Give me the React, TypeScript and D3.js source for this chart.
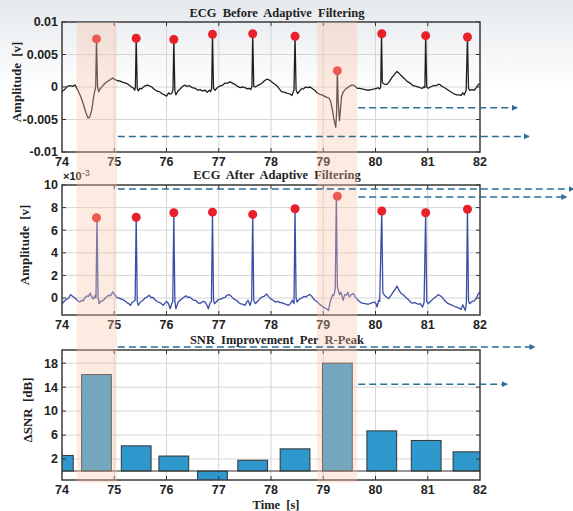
import React, { useEffect, useRef } from 'react';
import * as d3 from 'd3';

// R-peak times [s] and detected peak amplitudes
const rPeakTimes = [74.66, 75.42, 76.14, 76.88, 77.65, 78.46, 79.27, 80.12, 80.96, 81.76];
const rPeakBefore = [0.0074, 0.0075, 0.0073, 0.0081, 0.0082, 0.0078, 0.0025, 0.0082, 0.0079, 0.0077];
const rPeakAfter = [7.1, 7.15, 7.55, 7.6, 7.4, 7.9, 9.0, 7.7, 7.55, 7.85]; // x1e-3

// SNR improvement per R-peak
const barTimes = [73.93, 74.66, 75.42, 76.14, 76.88, 77.65, 78.46, 79.27, 80.12, 80.97, 81.77];
const snrGain = [2.6, 16.1, 4.2, 2.5, -1.6, 1.8, 3.7, 18.0, 6.7, 5.1, 3.2];

// motion-artifact windows [s]
const artifactWindows: [number, number][] = [[74.28, 75.05], [78.88, 79.65]];

const xTicks = [74, 75, 76, 77, 78, 79, 80, 81, 82];
const yTicksBefore = [-0.01, -0.005, 0, 0.005, 0.01];
const yTickLabelsBefore = ['-0.01', '-0.005', '0', '0.005', '0.01'];
const yTicksAfter = [0, 2, 4, 6, 8, 10];
const yTicksSnr = [2, 6, 10, 14, 18];

// [time, amplitude]
const ecgBefore: [number, number][] = [
  [74.0, -0.0007], [74.05, -0.0004], [74.1, 0.0001], [74.15, 0.0002], [74.2, 0.0001], [74.25, 0.0003],
  [74.31, -0.0006], [74.36, -0.0015], [74.41, -0.0027], [74.46, -0.004], [74.5, -0.0048], [74.53, -0.0046],
  [74.57, -0.0035], [74.6, -0.0018], [74.63, -0.0005], [74.645, 0.0], [74.66, 0.0073], [74.68, 0.0002],
  [74.7, -0.0007], [74.73, -0.0003], [74.79, 0.0003], [74.86, 0.0008], [74.92, 0.0011], [74.97, 0.0014],
  [75.0, 0.0012], [75.05, 0.001], [75.11, 0.0009], [75.17, 0.0007], [75.22, 0.0006], [75.27, 0.0004],
  [75.33, 0.0], [75.37, -0.0002], [75.39, -0.0005], [75.405, -0.0001], [75.42, 0.0075], [75.44, -0.0002],
  [75.46, -0.0006], [75.49, -0.0002], [75.52, -0.0003], [75.57, 0.0001], [75.63, 0.0003], [75.66, 0.0002],
  [75.72, 0.0], [75.76, -0.0003], [75.81, -0.0006], [75.86, -0.0007], [75.91, -0.001], [75.96, -0.0012],
  [76.0, -0.0014], [76.04, -0.0009], [76.07, -0.0011], [76.1, -0.001], [76.125, -0.0004], [76.14, 0.0073],
  [76.16, -0.0006], [76.18, -0.0012], [76.22, -0.0006], [76.26, -0.0003], [76.31, 0.0001], [76.35, 0.0003],
  [76.39, 0.0001], [76.44, 0.0002], [76.49, -0.0001], [76.55, -0.0002], [76.6, -0.0005], [76.64, -0.0004],
  [76.69, -0.0006], [76.74, -0.0005], [76.78, -0.0008], [76.82, -0.0005], [76.845, -0.0007], [76.865, -0.0002],
  [76.88, 0.0081], [76.9, -0.0002], [76.93, -0.0005], [76.96, -0.0002], [76.99, 0.0], [77.04, 0.0002],
  [77.08, 0.0003], [77.12, 0.0006], [77.17, 0.0006], [77.22, 0.0008], [77.26, 0.0006], [77.31, 0.0004],
  [77.36, 0.0001], [77.41, -0.0001], [77.46, 0.0], [77.5, -0.0001], [77.55, -0.0003], [77.58, -0.0002],
  [77.61, -0.0004], [77.635, 0.0], [77.65, 0.0082], [77.67, 0.0001], [77.7, 0.0], [77.74, 0.0002],
  [77.79, 0.0004], [77.84, 0.0007], [77.88, 0.001], [77.92, 0.0012], [77.96, 0.0011], [78.01, 0.0008],
  [78.06, 0.0005], [78.11, 0.0002], [78.16, -0.0003], [78.2, -0.0007], [78.25, -0.0008], [78.29, -0.0009],
  [78.33, -0.001], [78.37, -0.0011], [78.4, -0.0013], [78.425, -0.0008], [78.44, -0.0004], [78.46, 0.0078],
  [78.48, -0.0005], [78.51, -0.001], [78.55, -0.0006], [78.58, -0.0003], [78.62, -0.0003], [78.66, 0.0],
  [78.7, -0.0001], [78.75, 0.0], [78.8, -0.0003], [78.84, -0.0005], [78.88, -0.0009], [78.93, -0.0011],
  [78.97, -0.0012], [79.02, -0.0014], [79.07, -0.0016], [79.11, -0.0017], [79.14, -0.0022], [79.17, -0.0033],
  [79.2, -0.0048], [79.24, -0.0062], [79.255, -0.004], [79.27, 0.0025], [79.285, -0.002], [79.31, -0.0052],
  [79.33, -0.0035], [79.35, -0.0015], [79.38, -0.0008], [79.42, -0.0004], [79.45, -0.0002], [79.48, 0.0],
  [79.52, 0.0002], [79.55, 0.0003], [79.58, 0.0003], [79.61, 0.0001], [79.65, -0.0002], [79.7, -0.0002],
  [79.74, -0.0003], [79.8, -0.0004], [79.86, -0.0005], [79.92, -0.0004], [79.98, -0.0003], [80.02, -0.0002],
  [80.05, -0.0001], [80.08, -0.0003], [80.1, 0.0], [80.115, 0.0082], [80.13, 0.0008], [80.15, 0.0005],
  [80.19, 0.0004], [80.22, 0.0004], [80.26, 0.0008], [80.31, 0.0014], [80.36, 0.0019], [80.41, 0.0024],
  [80.45, 0.0021], [80.5, 0.0017], [80.55, 0.0013], [80.6, 0.0009], [80.66, 0.0006], [80.72, 0.0002],
  [80.78, 0.0001], [80.85, -0.0001], [80.9, -0.0002], [80.935, 0.0001], [80.945, -0.0001], [80.96, 0.0079],
  [80.98, 0.0], [81.01, -0.0002], [81.05, 0.0], [81.11, 0.0002], [81.16, 0.0002], [81.2, 0.0004],
  [81.23, 0.0004], [81.27, 0.0001], [81.3, 0.0], [81.36, -0.0003], [81.43, -0.0007], [81.49, -0.001],
  [81.55, -0.0012], [81.6, -0.0012], [81.64, -0.0013], [81.67, -0.0009], [81.7, -0.0012], [81.735, -0.0005],
  [81.76, 0.0077], [81.78, -0.0002], [81.8, -0.0005], [81.85, -0.0004], [81.89, -0.0005], [81.93, -0.0001],
  [81.97, 0.0004], [82.0, 0.0005],
];

// [time, amplitude x1e-3]
const ecgAfter: [number, number][] = [
  [74.0, -0.5], [74.04, -0.3], [74.09, -0.1], [74.13, 0.0], [74.16, 0.3], [74.19, 0.2], [74.22, 0.1],
  [74.25, 0.0], [74.29, -0.2], [74.34, -0.35], [74.38, -0.2], [74.41, -0.25], [74.44, 0.05], [74.48, 0.2],
  [74.51, 0.15], [74.54, 0.45], [74.57, 0.1], [74.6, -0.1], [74.63, 0.2], [74.65, 0.0], [74.67, 7.1],
  [74.69, 0.1], [74.71, -0.5], [74.74, -0.3], [74.79, -0.2], [74.83, 0.0], [74.86, 0.1], [74.89, 0.25],
  [74.93, 0.2], [74.97, 0.55], [75.0, 0.35], [75.05, 0.05], [75.09, 0.0], [75.14, -0.1], [75.19, -0.2],
  [75.24, -0.4], [75.28, -0.5], [75.31, -0.65], [75.34, -0.4], [75.37, -0.3], [75.4, -0.2], [75.42, 7.15],
  [75.44, -0.3], [75.46, -0.65], [75.5, -0.35], [75.55, -0.2], [75.59, 0.0], [75.63, 0.1], [75.67, 0.25],
  [75.7, 0.05], [75.74, 0.05], [75.79, -0.2], [75.84, -0.35], [75.89, -0.45], [75.94, -0.65], [75.97, -0.45],
  [76.0, -0.3], [76.04, -0.5], [76.07, -0.95], [76.1, -0.5], [76.12, -0.3], [76.14, 7.55], [76.16, -0.3],
  [76.18, -0.95], [76.22, -0.4], [76.26, -0.2], [76.3, -0.05], [76.34, 0.1], [76.37, 0.2], [76.41, 0.05],
  [76.44, 0.1], [76.48, -0.05], [76.52, -0.2], [76.56, -0.2], [76.6, -0.4], [76.64, -0.5], [76.69, -0.3],
  [76.74, -0.35], [76.77, -0.6], [76.8, -0.95], [76.83, -0.5], [76.86, -0.3], [76.88, 7.6], [76.9, -0.2],
  [76.92, -0.5], [76.96, -0.3], [76.99, -0.15], [77.03, -0.1], [77.08, 0.0], [77.12, 0.05], [77.16, 0.25],
  [77.2, 0.3], [77.24, 0.15], [77.29, -0.1], [77.34, -0.2], [77.38, -0.4], [77.41, -0.5], [77.46, -0.55],
  [77.5, -0.65], [77.53, -0.4], [77.56, -0.2], [77.6, -0.65], [77.63, -0.2], [77.65, 7.4], [77.67, -0.2],
  [77.7, -0.5], [77.74, -0.3], [77.79, -0.05], [77.83, 0.1], [77.87, 0.15], [77.92, 0.35], [77.95, 0.15],
  [77.99, -0.05], [78.04, -0.2], [78.08, -0.35], [78.13, -0.3], [78.17, -0.4], [78.2, -0.4], [78.25, -0.5],
  [78.29, -0.55], [78.33, -0.65], [78.37, -0.5], [78.41, -0.2], [78.44, -0.5], [78.46, 7.9], [78.48, 0.0],
  [78.5, -0.35], [78.54, -0.1], [78.59, 0.0], [78.63, 0.15], [78.67, 0.1], [78.71, 0.25], [78.75, 0.3],
  [78.79, 0.1], [78.84, -0.2], [78.89, -0.35], [78.93, -0.55], [78.96, -0.65], [79.0, -0.8], [79.04, -0.9],
  [79.08, -1.0], [79.1, -1.1], [79.13, -0.4], [79.15, -0.1], [79.18, 0.3], [79.2, 0.2], [79.23, 0.8],
  [79.25, 9.0], [79.27, 1.0], [79.29, 0.7], [79.31, 0.3], [79.34, 0.5], [79.38, -0.2], [79.41, 0.3],
  [79.44, 0.25], [79.47, 0.5], [79.5, 0.1], [79.54, 0.3], [79.58, 0.4], [79.61, 0.1], [79.64, -0.05],
  [79.69, -0.3], [79.74, -0.45], [79.8, -0.5], [79.86, -0.55], [79.92, -0.45], [79.98, -0.35], [80.01, -0.5],
  [80.03, -0.8], [80.06, -0.2], [80.08, -0.3], [80.12, 7.7], [80.14, 0.5], [80.17, 0.25], [80.21, 0.1],
  [80.25, -0.05], [80.29, 0.2], [80.34, 0.55], [80.38, 0.8], [80.41, 1.05], [80.45, 0.7], [80.49, 0.4],
  [80.53, 0.3], [80.58, 0.05], [80.63, -0.15], [80.69, -0.45], [80.75, -0.4], [80.82, -0.55], [80.86, -0.5],
  [80.9, -0.8], [80.93, -0.4], [80.96, 7.55], [80.98, -0.3], [81.01, -0.5], [81.05, -0.3], [81.11, -0.05],
  [81.15, 0.1], [81.2, 0.3], [81.24, 0.2], [81.27, 0.1], [81.32, -0.2], [81.39, -0.5], [81.45, -0.6],
  [81.52, -0.75], [81.58, -0.85], [81.64, -1.0], [81.67, -0.6], [81.7, -0.9], [81.72, -1.1], [81.74, -0.4],
  [81.76, 7.85], [81.78, -0.2], [81.8, -0.5], [81.85, -0.3], [81.89, -0.25], [81.93, 0.0], [81.97, 0.4],
  [82.0, 0.5],
];

// dashed annotation arrows: panel, start time, end time, level
const arrows: [number, number, number, number][] = [
  [0, 79.65, 82.71, -0.0032],
  [0, 75.05, 82.94, -0.0076],
  [1, 75.05, 83.8, 9.65],
  [1, 79.65, 83.66, 8.94],
  [2, 75.05, 83.05, 20.7],
  [2, 79.65, 82.52, 14.5],
];

const W = 573;
const H = 511;
const SANS = '"Liberation Sans", Arial, sans-serif';
const SERIF = '"Liberation Serif", "Times New Roman", serif';

export default function App() {
  const ref = useRef<SVGSVGElement>(null);

  useEffect(() => {
    const svg = d3.select(ref.current);
    svg.selectAll('*').remove();

    const x = d3.scaleLinear().domain([74, 82]).range([62, 480]);
    const left = 62;
    const right = 480;

    const panels = [
      { top: 22, bottom: 152, domain: [-0.01, 0.01], ticks: yTicksBefore, labels: yTickLabelsBefore,
        title: 'ECG Before Adaptive Filtering', ylabel: 'Amplitude [v]', ylx: 16 },
      { top: 185, bottom: 315, domain: [-1.5, 10], ticks: yTicksAfter, labels: yTicksAfter.map(String),
        title: 'ECG After Adaptive Filtering', ylabel: 'Amplitude [v]', ylx: 24 },
      { top: 350, bottom: 480, domain: [-1.5, 20.2], ticks: yTicksSnr, labels: yTicksSnr.map(String),
        title: 'SNR Improvement Per R-Peak', ylabel: '\u0394SNR [dB]', ylx: 27 },
    ];
    const ys = panels.map((p) => d3.scaleLinear().domain(p.domain).range([p.bottom, p.top]));

    const defs = svg.append('defs');
    const grad = defs.append('linearGradient').attr('id', 'bg').attr('x1', 0).attr('y1', 0).attr('x2', 0).attr('y2', 1);
    grad.append('stop').attr('offset', 0).attr('stop-color', '#e5e9ed');
    grad.append('stop').attr('offset', 1).attr('stop-color', '#ffffff');
    const mk = defs.append('marker').attr('id', 'arr').attr('viewBox', '0 0 10 10')
      .attr('refX', 9).attr('refY', 5).attr('markerWidth', 4).attr('markerHeight', 4).attr('orient', 'auto')
      .attr('markerUnits', 'strokeWidth');
    mk.append('path').attr('d', 'M0,0L10,5L0,10Z').attr('fill', '#2b6f94');

    svg.append('rect').attr('width', W).attr('height', H).attr('fill', '#fff');
    svg.append('rect').attr('width', W).attr('height', 90).attr('fill', 'url(#bg)');

    panels.forEach((p, i) => {
      const y = ys[i];
      const g = svg.append('g');
      defs.append('clipPath').attr('id', `clip${i}`)
        .append('rect').attr('x', left).attr('y', p.top).attr('width', right - left).attr('height', p.bottom - p.top);

      // grid
      g.selectAll('.gx').data(xTicks.slice(1, -1)).join('line')
        .attr('x1', (d) => x(d)).attr('x2', (d) => x(d)).attr('y1', p.top).attr('y2', p.bottom)
        .attr('stroke', '#d6d6d6').attr('stroke-width', 1);
      g.selectAll('.gy').data(p.ticks.filter((t) => y(t) > p.top + 1 && y(t) < p.bottom - 1)).join('line')
        .attr('x1', left).attr('x2', right).attr('y1', (d) => y(d)).attr('y2', (d) => y(d))
        .attr('stroke', '#d6d6d6').attr('stroke-width', 1);

      const plot = g.append('g').attr('clip-path', `url(#clip${i})`);
      if (i === 0 || i === 1) {
        const series = i === 0 ? ecgBefore : ecgAfter;
        const line = d3.line<[number, number]>().x((d) => x(d[0])).y((d) => y(d[1]));
        plot.append('path').attr('d', line(series))
          .attr('fill', 'none').attr('stroke', i === 0 ? '#1e1e1e' : '#3a4da6')
          .attr('stroke-width', 1.3).attr('stroke-linejoin', 'round');
        const peaks = i === 0 ? rPeakBefore : rPeakAfter;
        plot.selectAll('circle').data(rPeakTimes).join('circle')
          .attr('cx', (d) => x(d)).attr('cy', (_, k) => y(peaks[k])).attr('r', 4.5)
          .attr('fill', '#e8202a');
      } else {
        const bw = 0.57;
        plot.selectAll('rect').data(barTimes).join('rect')
          .attr('x', (d) => x(d - bw / 2)).attr('width', x(bw) - x(0))
          .attr('y', (_, k) => y(Math.max(0, snrGain[k])))
          .attr('height', (_, k) => Math.abs(y(snrGain[k]) - y(0)))
          .attr('fill', '#2e98cd').attr('stroke', '#333').attr('stroke-width', 1);
        plot.append('line').attr('x1', left).attr('x2', right).attr('y1', y(0)).attr('y2', y(0))
          .attr('stroke', '#333').attr('stroke-width', 1.2);
      }

      // ticks (inward, on all sides)
      const tl = 4;
      xTicks.slice(1, -1).forEach((t) => {
        g.append('line').attr('x1', x(t)).attr('x2', x(t)).attr('y1', p.bottom).attr('y2', p.bottom - tl).attr('stroke', '#333');
        g.append('line').attr('x1', x(t)).attr('x2', x(t)).attr('y1', p.top).attr('y2', p.top + tl).attr('stroke', '#333');
      });
      p.ticks.forEach((t) => {
        g.append('line').attr('x1', left).attr('x2', left + tl).attr('y1', y(t)).attr('y2', y(t)).attr('stroke', '#333');
        g.append('line').attr('x1', right).attr('x2', right - tl).attr('y1', y(t)).attr('y2', y(t)).attr('stroke', '#333');
      });
      g.append('rect').attr('x', left).attr('y', p.top).attr('width', right - left).attr('height', p.bottom - p.top)
        .attr('fill', 'none').attr('stroke', '#3a3a3a').attr('stroke-width', 1.5);

      // tick labels
      g.selectAll('.xl').data(xTicks).join('text')
        .attr('x', (d) => x(d)).attr('y', p.bottom + 14).attr('text-anchor', 'middle')
        .style('font-family', SANS).style('font-weight', 'bold').style('font-size', '12.5px').attr('fill', '#222')
        .text((d) => String(d));
      g.selectAll('.yl').data(p.ticks).join('text')
        .attr('x', left - 4).attr('y', (d) => y(d)).attr('dy', '0.35em').attr('text-anchor', 'end')
        .style('font-family', SANS).style('font-weight', 'bold').style('font-size', '12.5px').attr('fill', '#222')
        .text((_, k) => p.labels[k]);

      // title and y label
      g.append('text').attr('x', 277).attr('y', p.top - 5 - (i === 0 ? 0 : 1)).attr('text-anchor', 'middle')
        .style('font-family', SERIF).style('font-weight', 'bold').style('font-size', '12.5px')
        .style('word-spacing', '3px').attr('fill', '#222').text(p.title);
      g.append('text').attr('transform', `translate(${p.ylx},${(p.top + p.bottom) / 2 - 5}) rotate(-90)`)
        .attr('text-anchor', 'middle').attr('dy', '0.35em')
        .style('font-family', SERIF).style('font-weight', 'bold').style('font-size', '13px')
        .style('word-spacing', '3px').attr('fill', '#222').text(p.ylabel);
    });

    // x10^-3 exponent label
    const ex = svg.append('text').attr('x', 63).attr('y', 180)
      .style('font-family', SANS).style('font-size', '11px').attr('fill', '#222');
    ex.append('tspan').style('font-weight', 'bold').text('\u00d710');
    ex.append('tspan').attr('dy', -4).style('font-size', '9px').text('-3');

    // x-axis label
    svg.append('text').attr('x', 276).attr('y', 508.5).attr('text-anchor', 'middle')
      .style('font-family', SERIF).style('font-weight', 'bold').style('font-size', '12.5px')
      .style('word-spacing', '3px').attr('fill', '#222').text('Time [s]');

    // artifact windows overlay
    svg.selectAll('.band').data(artifactWindows).join('rect')
      .attr('x', (d) => x(d[0])).attr('width', (d) => x(d[1]) - x(d[0]))
      .attr('y', 22).attr('height', 461)
      .attr('fill', 'rgb(248,196,166)').attr('fill-opacity', 0.35);

    // dashed arrows
    svg.selectAll('.arrow').data(arrows).join('line')
      .attr('x1', (d) => x(d[1]) + 1).attr('x2', (d) => x(d[2]))
      .attr('y1', (d) => ys[d[0]](d[3])).attr('y2', (d) => ys[d[0]](d[3]))
      .attr('stroke', '#2b6f94').attr('stroke-width', 1.5).attr('stroke-dasharray', '7 4')
      .attr('marker-end', 'url(#arr)');
  }, []);

  return (
    <svg ref={ref} width={W} height={H} style={{ position: 'absolute', left: 0, top: 0, display: 'block' }} />
  );
}
